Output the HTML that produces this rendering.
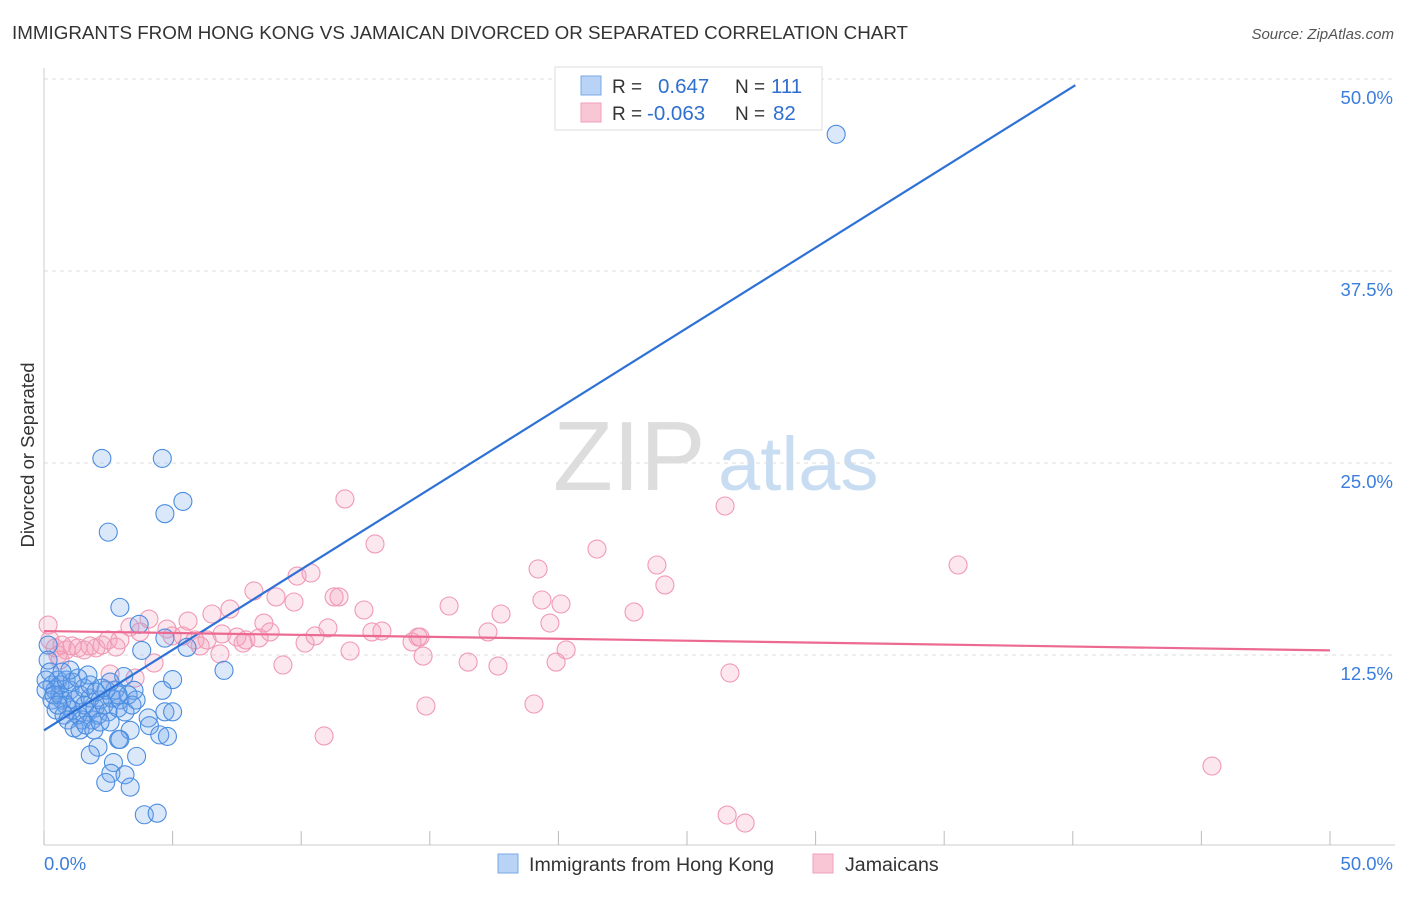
<!DOCTYPE html>
<html><head><meta charset="utf-8"><style>
body{margin:0;background:#fff;font-family:"Liberation Sans",sans-serif;}
svg text{font-family:"Liberation Sans",sans-serif;}
</style></head><body>
<svg id="chart" width="1406" height="892" viewBox="0 0 1406 892">
<text x="12" y="39" font-size="18.8" fill="#333">IMMIGRANTS FROM HONG KONG VS JAMAICAN DIVORCED OR SEPARATED CORRELATION CHART</text>
<text x="1394" y="39" font-size="15" fill="#555" font-style="italic" text-anchor="end">Source: ZipAtlas.com</text>
<g>
<text x="553" y="490" font-size="98" fill="#ddd" font-family="Liberation Serif, serif">ZIP</text>
<text x="718" y="490" font-size="76" fill="#c8dcf2">atlas</text>
</g>
<g id="grid"></g>
<g id="axes"></g>
<text transform="translate(34,455) rotate(-90)" font-size="18.5" fill="#333" text-anchor="middle">Divorced or Separated</text>
<g id="pts"></g>
<g id="lines"></g>
<g>
<rect x="555" y="67" width="267" height="63" fill="#fff" stroke="#ddd"/>
<rect x="581" y="76" width="20" height="19" fill="#b8d3f5" stroke="#7aaae8"/>
<rect x="581" y="103" width="20" height="19" fill="#f9c6d5" stroke="#f0a0ba"/>
<text x="612" y="93" font-size="19" fill="#333">R =</text>
<text x="658" y="93" font-size="20.5" fill="#2f6fd0">0.647</text>
<text x="735" y="93" font-size="19" fill="#333">N =</text>
<text x="771" y="93" font-size="20.5" fill="#2f6fd0">111</text>
<text x="612" y="120" font-size="19" fill="#333">R =</text>
<text x="647" y="120" font-size="20.5" fill="#2f6fd0">-0.063</text>
<text x="735" y="120" font-size="19" fill="#333">N =</text>
<text x="773" y="120" font-size="20.5" fill="#2f6fd0">82</text>
</g>
<g>
<rect x="498" y="854" width="20" height="19" fill="#b8d3f5" stroke="#7aaae8"/>
<text x="529" y="871" font-size="19.6" fill="#333">Immigrants from Hong Kong</text>
<rect x="813" y="854" width="20" height="19" fill="#f9c6d5" stroke="#f0a0ba"/>
<text x="845" y="871" font-size="19.6" fill="#333">Jamaicans</text>
</g>
</svg>
<script>
const yTicks=[12.5,25,37.5,50];
const yTickLabels=["12.5%","25.0%","37.5%","50.0%"];
const xTickLabels=["0.0%","50.0%"];
const blueX=[30.8,2.25,4.6,5.4,4.7,2.5,2.95,3.7,4.7,5.56,3.8,7.0,5.0,3.1,3.5,4.6,4.7,5.0,4.05,4.1,4.5,4.8,3.35,2.9,2.7,2.6,3.15,3.6,2.4,3.35,3.9,4.4,2.1,1.8,2.95,
0.16,0.16,0.23,0.31,0.43,0.54,0.62,0.7,0.86,1.01,1.09,1.21,1.32,1.4,1.48,1.59,1.71,1.79,1.87,1.98,2.1,2.18,2.33,2.49,2.57,2.64,2.76,2.88,2.95,3.15,3.27,3.42,3.58,0.31,0.47,0.78,0.93,1.17,1.4,1.63,1.94,2.18,2.41,0.62,0.86,1.09,1.56,1.79,2.02,2.26,1.71,1.32,1.01,0.7,0.08,0.08,0.39,0.54,2.57,2.88];
const blueY=[46.4,25.3,25.3,22.5,21.7,20.5,15.6,14.5,13.6,13.0,12.8,11.5,10.9,11.1,10.2,10.2,8.8,8.8,8.4,7.9,7.3,7.2,7.6,7.0,5.5,4.8,4.7,5.9,4.2,3.9,2.1,2.2,6.5,6.0,7.0,
13.15,12.17,11.39,10.55,10.22,10.87,9.9,9.57,9.24,10.22,8.92,9.57,8.59,9.9,8.27,9.24,8.79,9.7,8.27,9.05,8.59,9.57,9.24,8.79,8.14,9.7,10.22,9.05,9.57,8.79,9.9,9.24,9.57,9.57,8.92,8.59,8.27,7.75,7.62,7.94,7.62,8.14,10.22,10.55,10.87,10.74,10.35,10.55,10.09,10.35,11.2,11.0,11.52,11.39,10.87,10.22,9.9,9.24,10.74,9.9];
const pinkX=[11.70,26.48,12.87,21.50,35.54,23.83,19.21,9.84,10.38,24.14,8.16,11.28,11.47,9.02,19.36,9.72,6.53,7.23,15.75,20.10,17.77,12.44,22.94,5.60,4.08,8.55,4.78,3.34,3.73,4.98,5.40,5.87,6.92,7.50,7.85,8.36,8.79,10.54,11.04,12.75,13.14,14.54,17.26,19.67,6.34,6.07,7.74,10.15,11.90,14.31,14.62,14.74,20.30,6.84,4.28,2.57,3.54,9.29,16.49,17.65,19.91,26.67,14.85,19.05,10.89,45.41,26.56,27.26,0.23,0.43,0.54,0.70,0.86,1.09,1.32,1.56,1.79,2.02,2.26,2.49,0.16,0.62,2.95,2.80];
const pinkY=[22.66,22.20,19.73,19.40,18.36,18.36,18.10,17.64,17.84,17.06,16.67,16.28,16.28,16.28,16.08,15.95,15.17,15.49,15.69,15.82,15.17,15.43,15.30,14.71,14.84,14.58,14.19,14.32,14.00,13.74,13.74,13.48,13.87,13.67,13.48,13.61,14.00,13.74,14.26,14.00,14.06,13.67,14.00,14.58,13.48,13.09,13.28,13.28,12.76,13.35,13.67,12.43,12.83,12.57,11.98,11.26,11.00,11.85,12.04,11.78,12.04,11.33,9.18,9.31,7.23,5.27,2.08,1.56,13.48,12.96,12.50,13.15,12.83,13.09,12.96,12.83,13.09,12.96,13.15,13.48,14.45,12.17,13.48,13.02];
const blueLineX=[0,40.1];
const blueLineY=[7.6,49.6];
const pinkLineX=[0,50];
const pinkLineY=[14.06,12.8];

const NS="http://www.w3.org/2000/svg";
const X0=44,X1=1330,Y0=847,PXPER_Y=15.36;
function sx(v){return X0+(X1-X0)*v/50;}
function sy(v){return Y0-v*PXPER_Y;}
function mk(tag,attrs,parent){const e=document.createElementNS(NS,tag);for(const k in attrs)e.setAttribute(k,attrs[k]);parent.appendChild(e);return e;}
const grid=document.getElementById('grid'),axes=document.getElementById('axes'),pts=document.getElementById('pts'),lines=document.getElementById('lines');
yTicks.forEach((t,i)=>{
  const l=mk('line',{x1:X0,x2:1395,y1:sy(t),y2:sy(t),stroke:'#ddd','stroke-dasharray':'4,4'},grid);
  
  
  const tx=mk('text',{x:1393,y:sy(t)+25,'font-size':18.5,fill:'#3b7ddd','text-anchor':'end'},axes);
  tx.textContent=yTickLabels[i];
  
  
});
const ax=mk('line',{x1:X0,x2:1395,y1:845,y2:845,stroke:'#ccc'},axes);


const ay=mk('line',{x1:X0,x2:X0,y1:68,y2:845,stroke:'#ccc'},axes);


for(let i=0;i<=10;i++){
  const t=mk('line',{x1:sx(i*5),x2:sx(i*5),y1:831,y2:845,stroke:'#bbb'},axes);
  
  
}
const xl0=mk('text',{x:44,y:870,'font-size':18.5,fill:'#3b7ddd'},axes);
xl0.textContent=xTickLabels[0];


const xl1=mk('text',{x:1393,y:870,'font-size':18.5,fill:'#3b7ddd','text-anchor':'end'},axes);
xl1.textContent=xTickLabels[1];


pinkX.forEach((v,i)=>{
  const c=mk('circle',{cx:sx(v),cy:sy(pinkY[i]),r:9,fill:'rgba(245,160,188,0.25)',stroke:'#f09ab5','stroke-width':1.1},pts);
  
  
});
blueX.forEach((v,i)=>{
  const c=mk('circle',{cx:sx(v),cy:sy(blueY[i]),r:9,fill:'rgba(110,165,235,0.25)',stroke:'#4a8de0','stroke-width':1.1},pts);
  
  
});
const bl=mk('line',{x1:sx(blueLineX[0]),y1:sy(blueLineY[0]),x2:sx(blueLineX[1]),y2:sy(blueLineY[1]),stroke:'#2f72d6','stroke-width':2.2},lines);


const pl=mk('line',{x1:sx(pinkLineX[0]),y1:sy(pinkLineY[0]),x2:sx(pinkLineX[1]),y2:sy(pinkLineY[1]),stroke:'#ec6a92','stroke-width':2.2},lines);


</script>
</body></html>
